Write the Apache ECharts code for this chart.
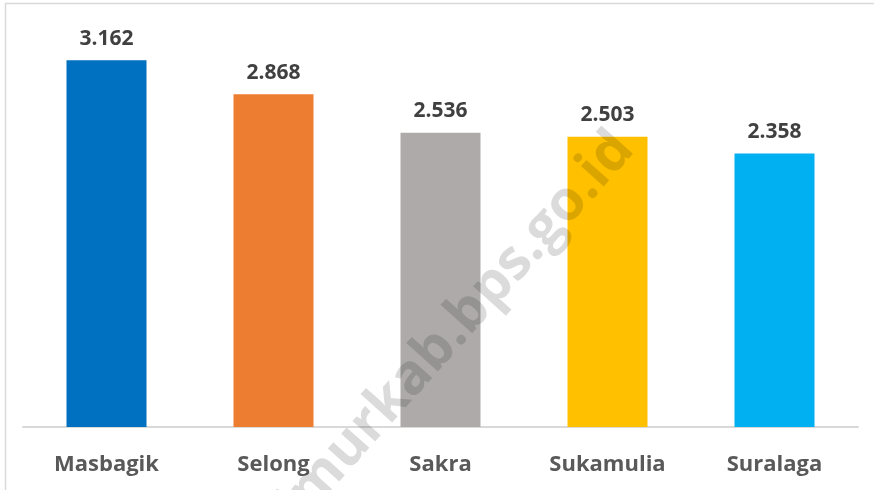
<!DOCTYPE html>
<html>
<head>
<meta charset="utf-8">
<script src="https://cdn.jsdelivr.net/npm/echarts@6/dist/echarts.min.js"></script>
<style>
    html, body { margin: 0; padding: 0; background: #fff; }
    #main { width: 874px; height: 490px; }
</style>
</head>
<body>
<div id="main"></div>
<script>
// kecamatan dan nilai
var categories = ['Masbagik', 'Selong', 'Sakra', 'Sukamulia', 'Suralaga'];
var values = [3.162, 2.868, 2.536, 2.503, 2.358];
var barColors = ['#0070C0', '#ED7D31', '#AEAAAA', '#FFC000', '#00B0F0'];
var watermark = 'lomboktimurkab.bps.go.id';

var myChart = echarts.init(document.getElementById('main'));

myChart.setOption({
    animation: false,
    grid: {
        left: 23,
        right: 16,
        top: 21,
        bottom: 63
    },
    xAxis: {
        type: 'category',
        data: categories,
        axisLine: { lineStyle: { color: '#D9D9D9', width: 2 } },
        axisTick: { show: false },
        axisLabel: {
            margin: 27,
            color: '#595959',
            fontFamily: 'Open Sans',
            fontWeight: 'bold',
            fontSize: 22
        }
    },
    yAxis: {
        type: 'value',
        min: 0,
        max: 3.5,
        show: false,
        splitLine: { show: false }
    },
    series: [{
        type: 'bar',
        barWidth: 80,
        data: values.map(function (v, i) {
            return { value: v, itemStyle: { color: barColors[i] } };
        }),
        label: {
            show: true,
            position: 'top',
            distance: 11,
            color: '#404040',
            fontFamily: 'Open Sans',
            fontWeight: 'bold',
            fontSize: 21,
            formatter: function (p) {
                return p.value.toFixed(3);
            }
        }
    }],
    graphic: [
        {
            type: 'rect',
            z: 50,
            shape: { x: 5.5, y: 3.5, width: 900, height: 600 },
            style: { fill: 'none', stroke: '#D9D9D9', lineWidth: 1.5 }
        },
        {
            // watermark miring
            type: 'text',
            z: 100,
            x: 624,
            y: 140,
            rotation: 0.84,
            style: {
                text: watermark,
                fill: 'rgba(0,0,0,0.14)',
                font: 'bold 56px "Open Sans"',
                textAlign: 'right',
                textVerticalAlign: 'middle'
            }
        }
    ]
});
</script>
</body>
</html>
